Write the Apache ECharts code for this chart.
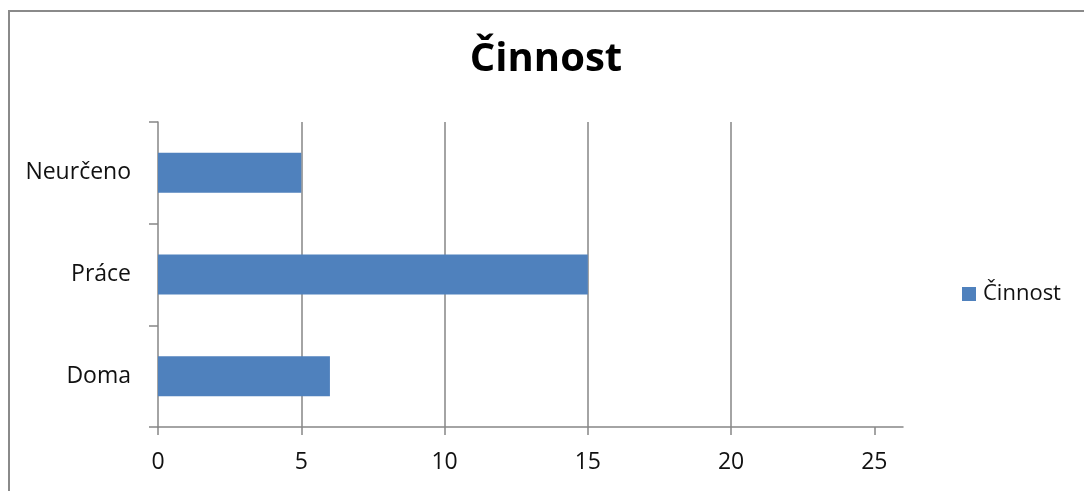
<!DOCTYPE html>
<html>
<head>
<meta charset="utf-8">
<title>Činnost</title>
<script src="https://cdn.jsdelivr.net/npm/echarts@6/dist/echarts.min.js"></script>
<style>
  html, body { margin: 0; padding: 0; background: #fff; }
  #chart { width: 1084px; height: 491px; }
</style>
</head>
<body>
<div id="chart"></div>
<script>
// Activity counts per category (bottom to top on the vertical axis)
const categories = ['Doma', 'Práce', 'Neurčeno'];
const values = [6, 15, 5];
const seriesName = 'Činnost';
const titleText = 'Činnost';
const xTickValues = [0, 5, 10, 15, 20, 25];

const FONT = '"Open Sans", "Noto Sans", sans-serif';
const GRID = '#868686';
const TEXT = '#111';

const chart = echarts.init(document.getElementById('chart'), null, { renderer: 'canvas' });

chart.setOption({
  animation: false,
  backgroundColor: '#ffffff',
  graphic: [{
    type: 'rect',
    shape: { x: 9, y: 11, width: 1200, height: 600 },
    style: { fill: 'none', stroke: '#8a8a8a', lineWidth: 2 },
    silent: true
  }],
  title: {
    text: titleText,
    left: 541,
    top: 35,
    textAlign: 'center',
    textStyle: { fontFamily: FONT, fontWeight: 'bold', fontSize: 40, color: '#000' }
  },
  legend: {
    data: [seriesName],
    left: 957,
    top: 278,
    orient: 'vertical',
    icon: 'rect',
    itemWidth: 14,
    itemHeight: 14,
    itemGap: 8,
    textStyle: { fontFamily: FONT, fontSize: 22, color: TEXT, padding: [0, 0, 0, 2] }
  },
  grid: { left: 158, top: 122, right: 181, bottom: 64, containLabel: false },
  xAxis: {
    type: 'value',
    min: 0,
    max: 26,
    interval: 5,
    axisLine: { show: true, lineStyle: { color: GRID, width: 1.5 } },
    axisTick: { show: true, length: 8, customValues: xTickValues, lineStyle: { color: GRID, width: 1.5 } },
    axisLabel: {
      customValues: xTickValues,
      margin: 24,
      fontFamily: FONT, fontSize: 23, color: TEXT
    },
    splitLine: { show: true, showMinLine: false, showMaxLine: false, lineStyle: { color: GRID, width: 1.5 } }
  },
  yAxis: {
    type: 'category',
    data: categories,
    axisLine: { show: true, lineStyle: { color: GRID, width: 1.5 } },
    axisTick: { show: true, length: 9, inside: false, lineStyle: { color: GRID, width: 1.5 } },
    axisLabel: { margin: 27, fontFamily: FONT, fontSize: 23, color: TEXT },
    splitLine: { show: false }
  },
  series: [{
    name: seriesName,
    type: 'bar',
    data: values,
    barWidth: 40,
    itemStyle: { color: '#4F81BD' }
  }]
});
</script>
</body>
</html>
